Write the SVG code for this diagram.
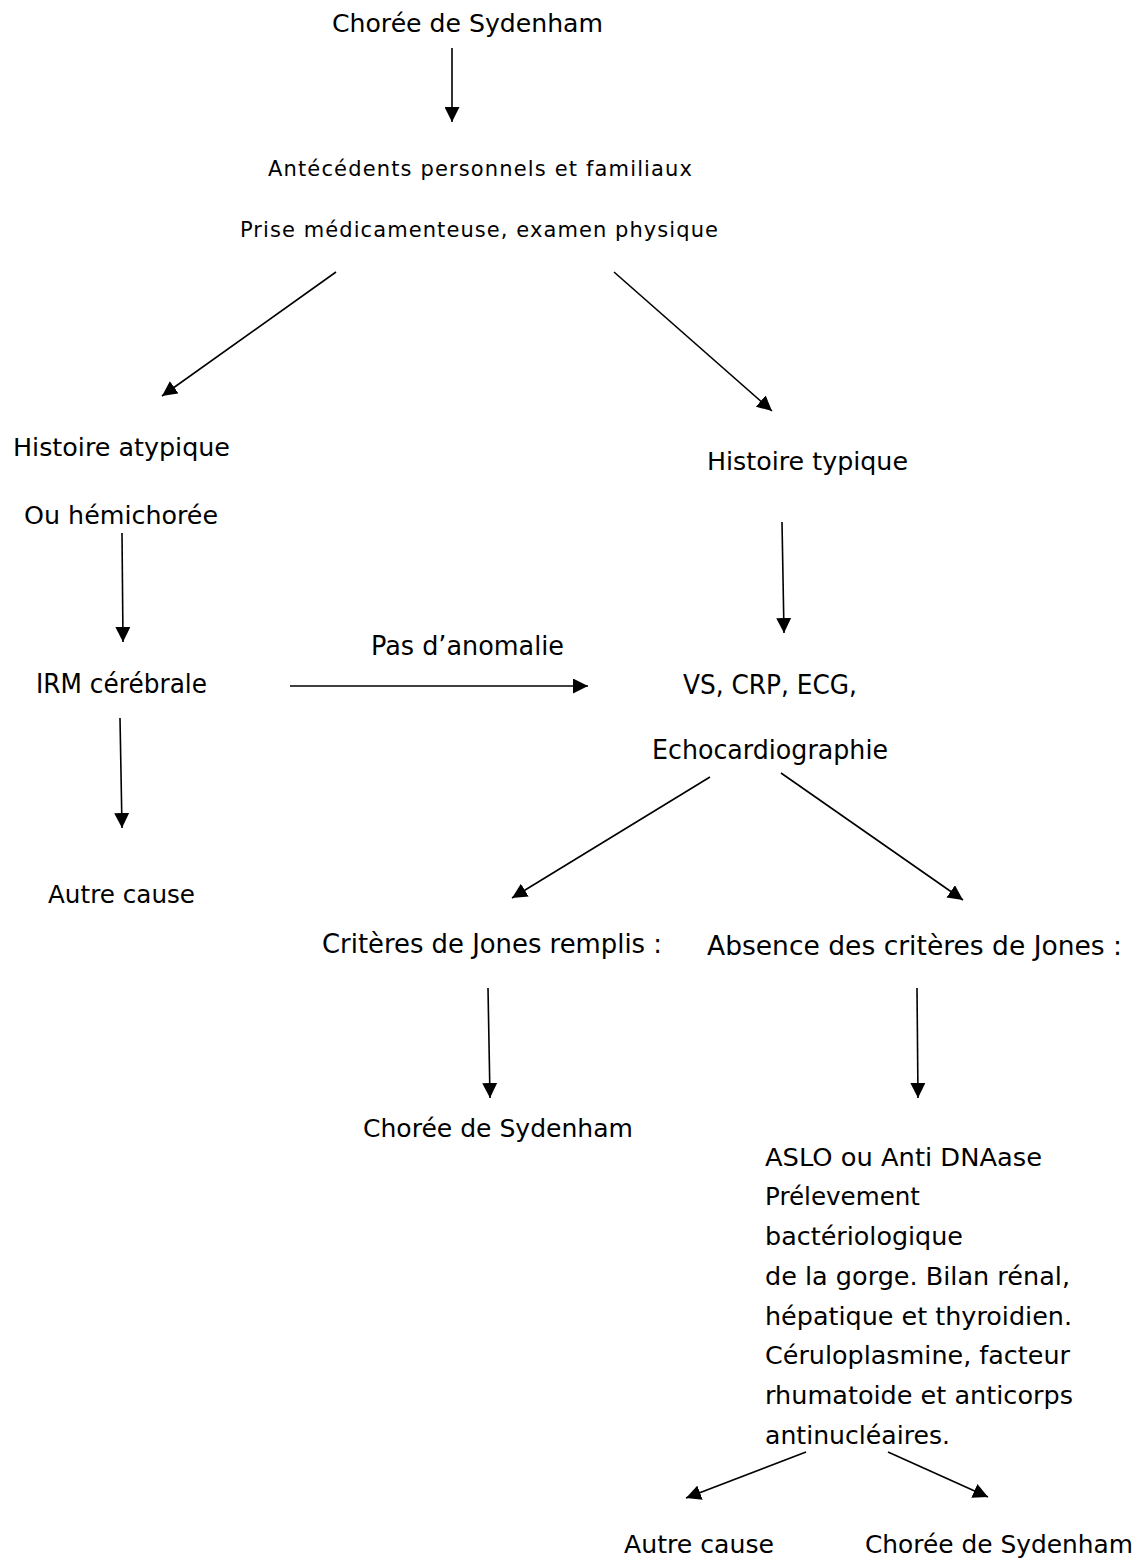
<svg xmlns="http://www.w3.org/2000/svg" width="1146" height="1562" viewBox="0 0 1146 1562">
<style>
text { font-family: "DejaVu Sans", sans-serif; fill: #000; }
.l { font-size: 25px; }
.k { font-size: 26px; }
.s { font-size: 21px; }
.c { stroke: #000; stroke-width: 1.6; fill: none; }
</style>
<defs>
<marker id="ah" markerUnits="userSpaceOnUse" markerWidth="16" markerHeight="15" refX="15" refY="7.5" orient="auto">
<path d="M0,0 L15,7.5 L0,15 Z" fill="#000"/>
</marker>
</defs>
<rect width="1146" height="1562" fill="#fff"/>
<g id="connectors">
<line class="c" x1="452" y1="48" x2="452" y2="122" marker-end="url(#ah)"/>
<line class="c" x1="336" y1="272" x2="162" y2="396" marker-end="url(#ah)"/>
<line class="c" x1="614" y1="272" x2="772" y2="411" marker-end="url(#ah)"/>
<line class="c" x1="122" y1="533" x2="123" y2="642" marker-end="url(#ah)"/>
<line class="c" x1="782" y1="522" x2="784" y2="633" marker-end="url(#ah)"/>
<line class="c" x1="290" y1="686" x2="588" y2="686" marker-end="url(#ah)"/>
<line class="c" x1="120" y1="718" x2="122" y2="828" marker-end="url(#ah)"/>
<line class="c" x1="710" y1="777" x2="512" y2="898" marker-end="url(#ah)"/>
<line class="c" x1="781" y1="773" x2="963" y2="900" marker-end="url(#ah)"/>
<line class="c" x1="488" y1="988" x2="490" y2="1098" marker-end="url(#ah)"/>
<line class="c" x1="917" y1="988" x2="918" y2="1098" marker-end="url(#ah)"/>
<line class="c" x1="806" y1="1452" x2="686" y2="1498" marker-end="url(#ah)"/>
<line class="c" x1="888" y1="1452" x2="988" y2="1497" marker-end="url(#ah)"/>
<text class="k" x="371" y="655" textLength="193" lengthAdjust="spacingAndGlyphs">Pas d’anomalie</text>
</g>
<g id="n1"><text class="l" x="332" y="32" textLength="271" lengthAdjust="spacingAndGlyphs">Chorée de Sydenham</text></g>
<g id="n2">
<text class="s" x="268" y="176" textLength="424" lengthAdjust="spacing">Antécédents personnels et familiaux</text>
<text class="s" x="240" y="237" textLength="478" lengthAdjust="spacing">Prise médicamenteuse, examen physique</text>
</g>
<g id="n3">
<text class="l" x="13" y="456" textLength="217" lengthAdjust="spacingAndGlyphs">Histoire atypique</text>
<text class="l" x="24" y="524" textLength="194" lengthAdjust="spacingAndGlyphs">Ou hémichorée</text>
</g>
<g id="n4"><text class="l" x="707" y="470" textLength="201" lengthAdjust="spacingAndGlyphs">Histoire typique</text></g>
<g id="n5"><text class="k" x="36" y="693" textLength="171" lengthAdjust="spacingAndGlyphs">IRM cérébrale</text></g>
<g id="n6">
<text class="k" x="683" y="694" textLength="174" lengthAdjust="spacingAndGlyphs">VS, CRP, ECG,</text>
<text class="k" x="652" y="759" textLength="236" lengthAdjust="spacingAndGlyphs">Echocardiographie</text>
</g>
<g id="n7"><text class="l" x="48" y="903" textLength="147" lengthAdjust="spacingAndGlyphs">Autre cause</text></g>
<g id="n8"><text class="k" x="322" y="953" textLength="340" lengthAdjust="spacingAndGlyphs">Critères de Jones remplis :</text></g>
<g id="n9"><text class="k" x="707" y="955" textLength="415" lengthAdjust="spacingAndGlyphs">Absence des critères de Jones :</text></g>
<g id="n10"><text class="l" x="363" y="1137" textLength="270" lengthAdjust="spacingAndGlyphs">Chorée de Sydenham</text></g>
<g id="n11">
<text class="l" x="765" y="1166" textLength="277" lengthAdjust="spacingAndGlyphs">ASLO ou Anti DNAase</text>
<text class="l" x="765" y="1205" textLength="155" lengthAdjust="spacingAndGlyphs">Prélevement</text>
<text class="l" x="765" y="1245" textLength="198" lengthAdjust="spacingAndGlyphs">bactériologique</text>
<text class="l" x="765" y="1285" textLength="305" lengthAdjust="spacingAndGlyphs">de la gorge. Bilan rénal,</text>
<text class="l" x="765" y="1325" textLength="307" lengthAdjust="spacingAndGlyphs">hépatique et thyroidien.</text>
<text class="l" x="765" y="1364" textLength="305" lengthAdjust="spacingAndGlyphs">Céruloplasmine, facteur</text>
<text class="l" x="765" y="1404" textLength="308" lengthAdjust="spacingAndGlyphs">rhumatoide et anticorps</text>
<text class="l" x="765" y="1444" textLength="185" lengthAdjust="spacingAndGlyphs">antinucléaires.</text>
</g>
<g id="n12"><text class="l" x="624" y="1553" textLength="150" lengthAdjust="spacingAndGlyphs">Autre cause</text></g>
<g id="n13"><text class="l" x="865" y="1553" textLength="268" lengthAdjust="spacingAndGlyphs">Chorée de Sydenham</text></g>
</svg>
